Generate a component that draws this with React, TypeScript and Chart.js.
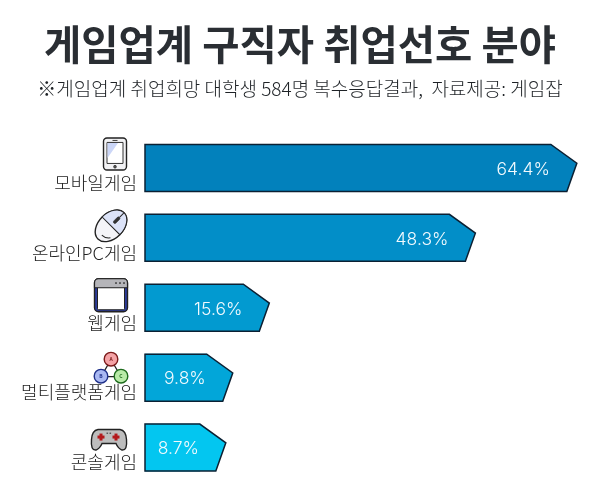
import React, { useEffect, useRef } from "react";
import { Chart, registerables } from "chart.js";

Chart.register(...registerables);

const categories = ["모바일게임", "온라인PC게임", "웹게임", "멀티플랫폼게임", "콘솔게임"];
const shares = [64.4, 48.3, 15.6, 9.8, 8.7];
const barColors = ["#0281BC", "#028EC8", "#029AD0", "#02A6D9", "#03C6F0"];
const titleText = "게임업계 구직자 취업선호 분야";
const subtitleText = "※게임업계 취업희망 대학생 584명 복수응답결과,  자료제공: 게임잡";

const OUTLINE = "#0B2033";
const KR = '"Noto Sans CJK KR", "Noto Sans", sans-serif';

type Ctx = CanvasRenderingContext2D;

function circle(ctx: Ctx, x: number, y: number, r: number, fill: string, stroke = "#222", lw = 1.2) {
  ctx.beginPath();
  ctx.arc(x, y, r, 0, Math.PI * 2);
  ctx.fillStyle = fill;
  ctx.fill();
  ctx.lineWidth = lw;
  ctx.strokeStyle = stroke;
  ctx.stroke();
}

function rr(ctx: Ctx, x: number, y: number, w: number, h: number, r: number, fill: string, stroke = "#222", lw = 1.4) {
  ctx.beginPath();
  ctx.roundRect(x, y, w, h, r);
  ctx.fillStyle = fill;
  ctx.fill();
  if (lw > 0) {
    ctx.lineWidth = lw;
    ctx.strokeStyle = stroke;
    ctx.stroke();
  }
}

function tablet(ctx: Ctx, cy: number) {
  rr(ctx, 103.5, cy - 30, 23, 32, 3.5, "#F2F2F4");
  rr(ctx, 107, cy - 25.5, 16, 21, 0, "#FFFFFF", "#333", 1);
  ctx.beginPath();
  ctx.moveTo(107.5, cy - 25);
  ctx.lineTo(118, cy - 25);
  ctx.lineTo(107.5, cy - 10);
  ctx.closePath();
  ctx.fillStyle = "#CBD6F7";
  ctx.fill();
  circle(ctx, 115, cy - 1.2, 1.4, "#555", "#222", 0.6);
  ctx.fillStyle = "#444";
  ctx.fillRect(112.5, cy - 28, 5, 1);
}

function mouse(ctx: Ctx, cy: number) {
  ctx.save();
  ctx.translate(111, cy - 12);
  ctx.rotate(-Math.PI / 4);
  ctx.beginPath();
  ctx.ellipse(0, 0, 18.5, 12.5, 0, 0, Math.PI * 2);
  ctx.fillStyle = "#F4F4F8";
  ctx.fill();
  ctx.lineWidth = 1.4;
  ctx.strokeStyle = "#222";
  ctx.stroke();
  ctx.beginPath();
  ctx.ellipse(0, 0, 18.5, 12.5, 0, -Math.PI / 2, Math.PI / 2);
  ctx.closePath();
  ctx.fillStyle = "#DCE3F8";
  ctx.fill();
  ctx.lineWidth = 1;
  ctx.stroke();
  rr(ctx, 4, -1.5, 8, 3, 1.5, "#333", "#222", 0.5);
  ctx.beginPath();
  ctx.moveTo(12, 0);
  ctx.lineTo(18, 0);
  ctx.lineWidth = 1;
  ctx.stroke();
  ctx.beginPath();
  ctx.arc(-3, 0, 10, Math.PI * 0.7, Math.PI * 1.0);
  ctx.lineWidth = 1;
  ctx.stroke();
  ctx.restore();
}

function webWindow(ctx: Ctx, cy: number) {
  rr(ctx, 94.5, cy - 29, 33, 33, 4, "#2C3C9A", "#222", 1.4);
  rr(ctx, 97.5, cy - 21, 27, 23, 1, "#FFFFFF", "#222", 1);
  ctx.beginPath();
  ctx.roundRect(94.5, cy - 29, 33, 9, [4, 4, 0, 0]);
  ctx.fillStyle = "#B5B5B9";
  ctx.fill();
  ctx.lineWidth = 1.2;
  ctx.strokeStyle = "#222";
  ctx.stroke();
  ctx.fillStyle = "#333";
  for (const x of [116, 120, 124]) ctx.fillRect(x - 0.8, cy - 25.5, 1.6, 1.6);
}

function nodes(ctx: Ctx, cy: number) {
  ctx.beginPath();
  ctx.moveTo(111, cy - 18);
  ctx.lineTo(101, cy - 1);
  ctx.lineTo(121, cy - 1);
  ctx.closePath();
  ctx.lineWidth = 1.2;
  ctx.strokeStyle = "#222";
  ctx.stroke();
  const items: [number, number, string, string, string][] = [
    [111, -18.5, "#F5A3A6", "#7A1A1A", "A"],
    [101, -1.5, "#A9B8F2", "#1E2F88", "B"],
    [121, -1.5, "#B9EBA8", "#1D6B1D", "C"],
  ];
  for (const [x, dy, fill, ring, letter] of items) {
    circle(ctx, x, cy + dy, 6.8, fill, ring, 1.4);
    ctx.fillStyle = ring;
    ctx.font = `bold 5px ${KR}`;
    ctx.textAlign = "center";
    ctx.textBaseline = "middle";
    ctx.fillText(letter, x, cy + dy);
  }
}

function gamepad(ctx: Ctx, cy: number) {
  ctx.beginPath();
  ctx.moveTo(98, cy - 18);
  ctx.lineTo(120, cy - 18);
  ctx.quadraticCurveTo(126, cy - 17, 126.5, cy - 8);
  ctx.quadraticCurveTo(127.5, cy + 3, 122, cy + 2.5);
  ctx.quadraticCurveTo(118, cy + 1, 116, cy - 4);
  ctx.lineTo(102, cy - 4);
  ctx.quadraticCurveTo(100, cy + 1, 96, cy + 2.5);
  ctx.quadraticCurveTo(90.5, cy + 3, 91.5, cy - 8);
  ctx.quadraticCurveTo(92, cy - 17, 98, cy - 18);
  ctx.closePath();
  ctx.fillStyle = "#BDBDBD";
  ctx.fill();
  ctx.lineWidth = 1.4;
  ctx.strokeStyle = "#222";
  ctx.stroke();
  ctx.fillStyle = "#B3191C";
  for (const x of [101, 116]) {
    ctx.fillRect(x - 3.5, cy - 12, 7, 3);
    ctx.fillRect(x - 1.5, cy - 14, 3, 7);
  }
  ctx.fillStyle = "#555";
  ctx.fillRect(106.5, cy - 15, 1.6, 1.4);
  ctx.fillRect(109.5, cy - 15, 1.6, 1.4);
}

const icons = [tablet, mouse, webWindow, nodes, gamepad];

const tagPlugin = {
  id: "tagBars",
  afterDatasetsDraw(chart: any) {
    const ctx: Ctx = chart.ctx;
    const bars = chart.getDatasetMeta(0).data;
    bars.forEach((bar: any, i: number) => {
      const { x, y, base, height } = bar.getProps(["x", "y", "base", "height"], true);
      const top = y - height / 2;
      const bottom = y + height / 2;
      ctx.save();
      ctx.beginPath();
      ctx.moveTo(base, top);
      ctx.lineTo(x, top);
      ctx.lineTo(x + 26, top + height * 0.4);
      ctx.lineTo(x + 16, bottom);
      ctx.lineTo(base, bottom);
      ctx.closePath();
      ctx.fillStyle = barColors[i];
      ctx.fill();
      ctx.lineWidth = 1.5;
      ctx.strokeStyle = OUTLINE;
      ctx.lineJoin = "miter";
      ctx.stroke();

      ctx.fillStyle = "#F2FAFE";
      ctx.font = "300 17.5px Inter, Lato, sans-serif";
      ctx.textAlign = "right";
      ctx.textBaseline = "middle";
      ctx.fillText(`${shares[i]}%`, x - 1, y + 1.5);
      ctx.restore();

      ctx.save();
      icons[i](ctx, y);
      ctx.restore();
    });
  },
};

export default function App() {
  const ref = useRef<HTMLCanvasElement>(null);
  useEffect(() => {
    document.body.style.margin = "0";
    const chart = new Chart(ref.current!, {
      type: "bar",
      plugins: [tagPlugin],
      data: {
        labels: categories,
        datasets: [{ data: shares, backgroundColor: barColors, barThickness: 47, borderWidth: 0 }],
      },
      options: {
        indexAxis: "y",
        responsive: false,
        animation: false,
        layout: { padding: { top: 0, bottom: 20.5, left: 0, right: 0 } },
        plugins: {
          legend: { display: false },
          tooltip: { enabled: false },
          title: {
            display: true,
            text: titleText,
            color: "#2A2E33",
            font: { family: KR, size: 40.5, weight: "bold", lineHeight: 1 },
            padding: { top: 24, bottom: 14.5 },
          },
          subtitle: {
            display: true,
            text: subtitleText,
            color: "#1E2226",
            font: { family: KR, size: 19, weight: "300", lineHeight: 1 },
            padding: { top: 0, bottom: 35 },
          },
        },
        scales: {
          x: { display: false, min: 0, max: 72.2 },
          y: {
            afterFit: (s: any) => {
              s.width = 145;
            },
            border: { display: false },
            grid: { display: false, drawTicks: false },
            ticks: {
              padding: 8,
              labelOffset: 15,
              color: "#222222",
              autoSkip: false,
              font: { family: KR, size: 18, weight: "300" },
            },
          },
        },
      },
    } as any);
    return () => chart.destroy();
  }, []);
  return <canvas ref={ref} width={600} height={503} style={{ display: "block" }} />;
}
